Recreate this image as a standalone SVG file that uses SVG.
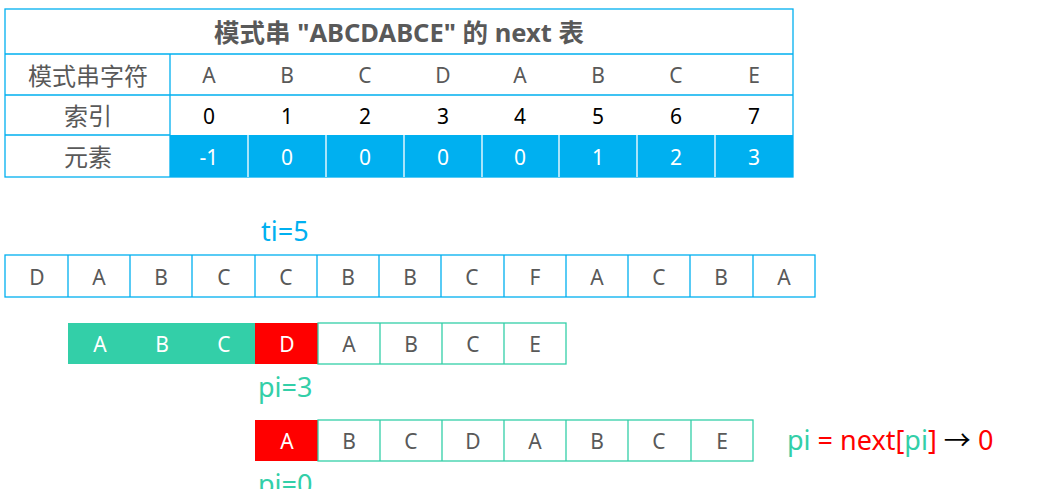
<svg xmlns="http://www.w3.org/2000/svg" width="1055" height="489" viewBox="0 0 1055 489">
<style>
text{font-family:"Noto Sans","Noto Sans CJK SC",sans-serif;text-anchor:middle;dominant-baseline:central}
.bl{fill:none;stroke:#00b0f0;stroke-width:1.3}
.gl{fill:none;stroke:#33cfa8;stroke-width:1.3}
.g{fill:#595959;font-size:21px}
.k{fill:#000;font-size:21px}
.w{fill:#fff;font-size:21px}
.lab{fill:#595959;font-size:24px}
.big{font-size:27px;text-anchor:start}
</style>
<rect width="1055" height="489" fill="#fff"/>
<g id="table">
<rect x="170" y="135" width="623" height="42" fill="#00b0f0"/>
<rect class="bl" x="5" y="9" width="788" height="168"/>
<path class="bl" d="M5 54H793M5 95H793M5 135H170M170 54V177"/>
<path d="M248 135V177M326 135V177M404 135V177M482 135V177M559 135V177M637 135V177M715 135V177" stroke="#fff" stroke-width="1.3"/>
<text x="399" y="32" style="font-size:25.5px;font-weight:bold;fill:#595959">模式串 "ABCDABCE" 的 next 表</text>
<text class="lab" x="88" y="75">模式串字符</text>
<text class="lab" x="88" y="115">索引</text>
<text class="lab" x="88" y="156">元素</text>
<g class="g"><text x="209" y="75">A</text><text x="287" y="75">B</text><text x="365" y="75">C</text><text x="443" y="75">D</text><text x="520" y="75">A</text><text x="598" y="75">B</text><text x="676" y="75">C</text><text x="754" y="75">E</text></g>
<g class="k"><text x="209" y="116">0</text><text x="287" y="116">1</text><text x="365" y="116">2</text><text x="443" y="116">3</text><text x="520" y="116">4</text><text x="598" y="116">5</text><text x="676" y="116">6</text><text x="754" y="116">7</text></g>
<g class="w"><text x="209" y="157">-1</text><text x="287" y="157">0</text><text x="365" y="157">0</text><text x="443" y="157">0</text><text x="520" y="157">0</text><text x="598" y="157">1</text><text x="676" y="157">2</text><text x="754" y="157">3</text></g>
</g>
<g id="ti-label"><text class="big" x="261" y="230" style="fill:#00b0f0">ti=5</text></g>
<g id="text-row">
<rect class="bl" x="5" y="255" width="810" height="42"/>
<path class="bl" d="M68 255V297M130 255V297M192 255V297M255 255V297M317 255V297M379 255V297M441 255V297M504 255V297M566 255V297M628 255V297M690 255V297M753 255V297"/>
<g class="g"><text x="37" y="277">D</text><text x="99" y="277">A</text><text x="161" y="277">B</text><text x="224" y="277">C</text><text x="286" y="277">C</text><text x="348" y="277">B</text><text x="410" y="277">B</text><text x="472" y="277">C</text><text x="535" y="277">F</text><text x="597" y="277">A</text><text x="659" y="277">C</text><text x="721" y="277">B</text><text x="784" y="277">A</text></g>
</g>
<g id="pattern-1">
<rect x="68" y="323" width="187" height="41" fill="#33cfa8"/>
<rect x="255" y="323" width="63" height="41" fill="#ff0000"/>
<rect class="gl" x="318" y="323" width="248" height="41"/>
<path class="gl" d="M380 323V364M442 323V364M504 323V364"/>
<g class="w"><text x="100" y="344">A</text><text x="162" y="344">B</text><text x="224" y="344">C</text><text x="287" y="344">D</text></g>
<g class="g"><text x="349" y="344">A</text><text x="411" y="344">B</text><text x="473" y="344">C</text><text x="535" y="344">E</text></g>
</g>
<g id="pi-3"><text class="big" x="258" y="386" style="fill:#33cfa8">pi=3</text></g>
<g id="pattern-2">
<rect x="255" y="420" width="63" height="41" fill="#ff0000"/>
<rect class="gl" x="318" y="420" width="435" height="41"/>
<path class="gl" d="M380 420V461M442 420V461M504 420V461M566 420V461M628 420V461M691 420V461"/>
<text class="w" x="287" y="441">A</text>
<g class="g"><text x="349" y="441">B</text><text x="411" y="441">C</text><text x="473" y="441">D</text><text x="535" y="441">A</text><text x="597" y="441">B</text><text x="659" y="441">C</text><text x="722" y="441">E</text></g>
</g>
<g id="pi-0"><text class="big" x="258" y="483" style="fill:#33cfa8">pi=0</text></g>
<g id="formula"><text class="big" x="787" y="439"><tspan fill="#33cfa8">pi</tspan><tspan fill="#ff0000"> = next[</tspan><tspan fill="#33cfa8">pi</tspan><tspan fill="#ff0000">]</tspan><tspan fill="#000"> → </tspan><tspan fill="#ff0000">0</tspan></text></g>
</svg>
